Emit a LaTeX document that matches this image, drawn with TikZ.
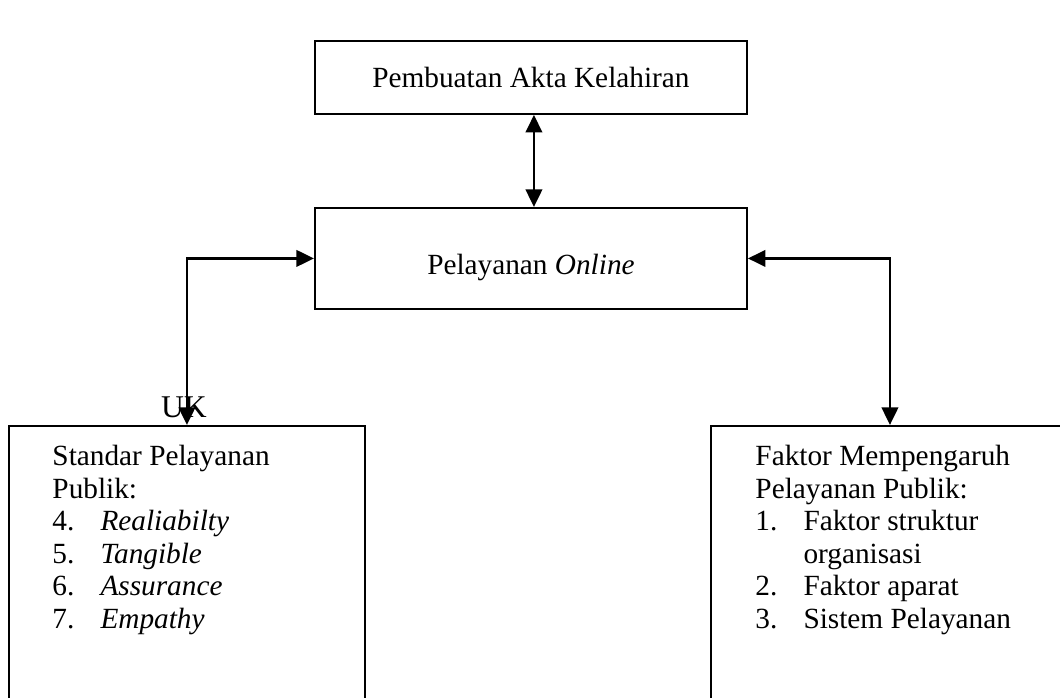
\documentclass[tikz,border=0pt]{standalone}
\usepackage{fontspec}
\setmainfont{Liberation Serif}
\usetikzlibrary{arrows.meta}

\newcommand{\numitem}[2]{\makebox[20.5pt][l]{#1}#2}

\begin{document}
\begin{tikzpicture}[x=0.015cm,y=-0.015cm,
    >={Triangle[length=7.5pt,width=7pt]},
    font=\fontsize{12.5pt}{13.87pt}\selectfont,
    box/.style={draw,line width=0.8pt,inner sep=0pt,anchor=north west},
    link/.style={<->,line width=1.1pt},
    boxtext/.style={anchor=north west,align=left,inner sep=0pt}]
  \useasboundingbox (0,0) rectangle (1060,698);

  % main boxes
  \node[box,minimum width=6.48cm,minimum height=1.095cm] (akta) at (314,40) {Pembuatan Akta Kelahiran};
  \node[box,minimum width=6.48cm,minimum height=1.515cm,text height=16pt] (online) at (314,207) {Pelayanan \textit{Online}};

  % bottom boxes (run past the page edge)
  \node[box,minimum width=5.34cm,minimum height=4.2cm] (standar) at (8,425) {};
  \node[box,minimum width=5.37cm,minimum height=4.2cm] (faktor) at (710,425) {};

  % box texts
  \node[boxtext] (standartext) at (52,445) {Standar Pelayanan\\
    Publik:\\
    \numitem{4.}{\textit{Realiabilty}}\\
    \numitem{5.}{\textit{Tangible}}\\
    \numitem{6.}{\textit{Assurance}}\\
    \numitem{7.}{\textit{Empathy}}};
  \node[boxtext] (faktortext) at (755,445) {Faktor Mempengaruh\\
    Pelayanan Publik:\\
    \numitem{1.}{Faktor struktur}\\
    \numitem{}{organisasi}\\
    \numitem{2.}{Faktor aparat}\\
    \numitem{3.}{Sistem Pelayanan}};

  % connectors
  \draw[link] ([xshift=0.045cm]akta.south) -- ([xshift=0.045cm]online.north);
  \draw[link] (online.west) -| (standar.north);
  \draw[link] (online.east) -| (faktor.north);

  % stray label
  \node[anchor=base,font=\fontsize{13.5pt}{15pt}\selectfont] (uk) at ([xshift=-0.045cm,yshift=3pt]standar.north) {UK};
\end{tikzpicture}
\end{document}
